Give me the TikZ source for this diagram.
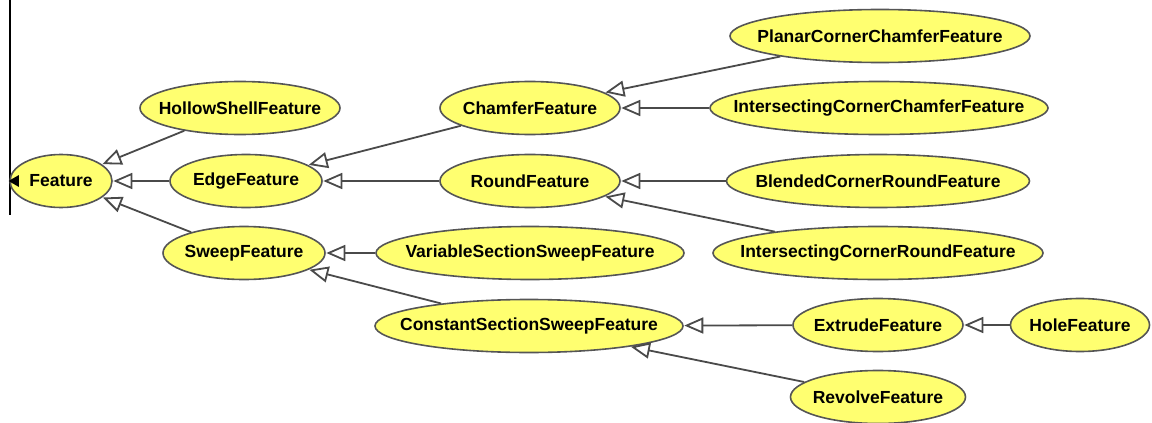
\documentclass[tikz,border=0pt]{standalone}
\usepackage{fontspec}
\setmainfont{Liberation Sans}
\usetikzlibrary{shapes.geometric,arrows.meta}
\definecolor{nodefill}{HTML}{FFFF70}
\definecolor{nodeline}{HTML}{555555}
\definecolor{edgeline}{HTML}{4A4A4A}
\tikzset{
  cls/.style={ellipse, draw=nodeline, line width=1.6pt, fill=nodefill, inner sep=0pt,
    minimum height=53pt, font=\fontsize{17.5}{20}\selectfont\bfseries},
  isa/.style={draw=edgeline, line width=1.8pt,
    -{Triangle[open, length=19pt, width=16pt, fill=white]}, shorten >=0.5pt},
}
\newcommand{\lbl}[1]{\makebox[0pt][c]{#1}}
\begin{document}
\begin{tikzpicture}[x=1pt,y=-1pt]
\useasboundingbox (0,0) rectangle (1152,423);
\draw[black, line width=1.5pt] (10,0) -- (10,215);
% nodes
\node[cls, minimum width=102pt] (feat) at (61,181) {\lbl{Feature}};
\node[cls, minimum width=200pt] (hollow) at (240,108) {\lbl{HollowShellFeature}};
\node[cls, minimum width=152pt] (edge) at (246,181) {\lbl{EdgeFeature}};
\node[cls, minimum width=162pt] (sweep) at (244,253) {\lbl{SweepFeature}};
\node[cls, minimum width=180pt] (chamfer) at (530,108) {\lbl{ChamferFeature}};
\node[cls, minimum width=180pt] (round) at (530,181) {\lbl{RoundFeature}};
\node[cls, minimum width=308pt] (varsweep) at (530,253) {\lbl{VariableSectionSweepFeature}};
\node[cls, minimum width=308pt] (constsweep) at (529,326) {\lbl{ConstantSectionSweepFeature}};
\node[cls, minimum width=300pt] (planar) at (880,36) {\lbl{PlanarCornerChamferFeature}};
\node[cls, minimum width=338pt] (intchamfer) at (879,108) {\lbl{IntersectingCornerChamferFeature}};
\node[cls, minimum width=303pt] (blended) at (878,181) {\lbl{BlendedCornerRoundFeature}};
\node[cls, minimum width=330pt] (intround) at (878,253) {\lbl{IntersectingCornerRoundFeature}};
\node[cls, minimum width=170pt] (extrude) at (878,325) {\lbl{ExtrudeFeature}};
\node[cls, minimum width=139pt] (hole) at (1080,325) {\lbl{HoleFeature}};
\node[cls, minimum width=175pt] (revolve) at (878,397) {\lbl{RevolveFeature}};
% marker on Feature
\node[fill=black, isosceles triangle, isosceles triangle apex angle=60, shape border rotate=180,
  inner sep=0pt, minimum height=7pt, minimum width=12pt] (mark) at (15.5,181) {};
% inheritance edges
\draw[isa] (hollow) -- (feat);
\draw[isa] (edge) -- (feat);
\draw[isa] (sweep) -- (feat);
\draw[isa] (chamfer) -- (edge);
\draw[isa] (round) -- (edge);
\draw[isa] (varsweep) -- (sweep);
\draw[isa] (constsweep) -- (sweep);
\draw[isa] (planar) -- (chamfer);
\draw[isa] (intchamfer) -- (chamfer);
\draw[isa] (blended) -- (round);
\draw[isa] (intround) -- (round);
\draw[isa] (extrude) -- (constsweep);
\draw[isa] (revolve) -- (constsweep);
\draw[isa] (hole) -- (extrude);
\end{tikzpicture}
\end{document}
